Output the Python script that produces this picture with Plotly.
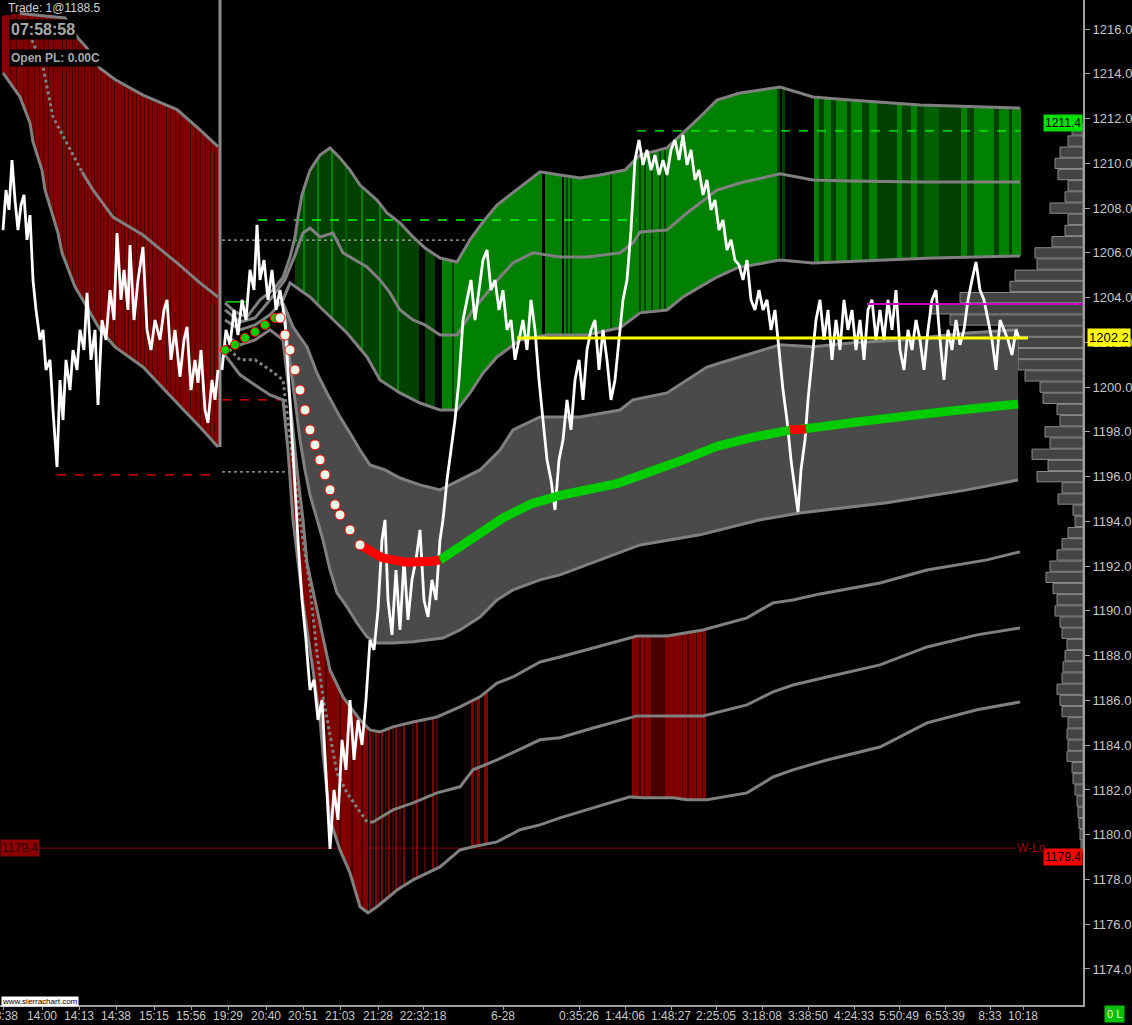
import numpy as np
import plotly.graph_objects as go

# ---------------- axes ----------------
X_MAX = 1083
Y_MIN, Y_MAX = 1172.39, 1217.30
X_TICK_POS = [3, 42, 79, 116, 154, 191, 228, 266, 303, 340, 378, 423, 503, 579, 625, 671,
              716, 762, 808, 854, 899, 945, 990, 1023]
X_TICK_TEXT = ["13:38", "14:00", "14:13", "14:38", "15:15", "15:56", "19:29", "20:40", "20:51",
               "21:03", "21:28", "22:32:18", "6-28", "0:35:26", "1:44:06", "1:48:27", "2:25:05",
               "3:18:08", "3:38:50", "4:24:33", "5:50:49", "6:53:39", "8:33", "10:18"]
Y_TICKS = [1174, 1176, 1178, 1180, 1182, 1184, 1186, 1188, 1190, 1192, 1194, 1196, 1198,
           1200, 1202, 1204, 1206, 1208, 1210, 1212, 1214, 1216]

# ---------------- prices (bar index, price) ----------------
S1_PRICE = [(3, 1207.02), (6, 1208.81), (9, 1207.92), (12, 1210.15), (15, 1208.36), (18, 1207.02),
            (21, 1208.14), (24, 1208.59), (27, 1206.58), (30, 1207.69), (33, 1204.79), (36, 1203.45),
            (40, 1202.11), (43, 1202.56), (46, 1200.77), (50, 1201.22), (53, 1198.98), (57, 1196.43),
            (60, 1200.32), (63, 1198.53), (66, 1201.22), (70, 1199.87), (73, 1201.66), (77, 1200.77),
            (80, 1202.56), (84, 1201.66), (87, 1204.21), (91, 1201.22), (95, 1202.56), (98, 1199.20),
            (102, 1203.00), (106, 1202.11), (110, 1204.34), (114, 1203.00), (117, 1206.89), (121, 1203.90),
            (124, 1205.24), (128, 1203.45), (130, 1206.35), (134, 1203.00), (138, 1204.79), (143, 1206.26),
            (147, 1202.56), (151, 1201.66), (155, 1203.00), (160, 1202.11), (164, 1203.45), (167, 1203.90),
            (171, 1201.22), (175, 1202.56), (180, 1200.46), (184, 1202.11), (187, 1202.69), (191, 1199.87),
            (195, 1201.22), (198, 1200.19), (201, 1201.66), (205, 1198.98), (208, 1198.40), (212, 1200.32),
            (215, 1199.43), (218, 1200.77)]

S2_PRICE = [(222, 1200.77), (226, 1202.56), (230, 1201.89), (234, 1203.45), (238, 1202.33), (242, 1203.90),
            (246, 1203.00), (250, 1205.24), (254, 1204.34), (257, 1207.25), (260, 1204.79), (264, 1205.68),
            (268, 1203.90), (272, 1205.24), (276, 1203.45), (280, 1204.34), (285, 1203.00), (290, 1199.43),
            (294, 1196.30), (298, 1193.17), (302, 1190.49), (306, 1188.70), (310, 1186.47), (314, 1186.92),
            (318, 1185.13), (322, 1186.02), (326, 1182.90), (330, 1179.37), (334, 1182.00), (338, 1180.66),
            (342, 1184.24), (346, 1182.90), (350, 1186.02), (354, 1183.34), (358, 1185.13), (362, 1184.01),
            (366, 1186.02), (370, 1188.70), (374, 1188.26), (378, 1190.05), (382, 1193.17), (385, 1194.07),
            (388, 1190.49), (392, 1188.93), (396, 1191.83), (400, 1189.15), (404, 1192.28), (408, 1189.60),
            (412, 1191.39), (416, 1192.28), (420, 1193.62), (424, 1190.49), (428, 1189.73), (432, 1191.39),
            (436, 1190.49), (440, 1193.17), (443, 1194.07), (447, 1195.85), (451, 1197.19), (455, 1198.53),
            (459, 1200.32), (463, 1203.00), (467, 1203.90), (471, 1204.79), (475, 1203.00), (479, 1204.34),
            (483, 1205.68), (487, 1206.13), (491, 1204.34), (495, 1204.79), (499, 1203.45), (503, 1204.34),
            (507, 1202.56), (511, 1203.00), (515, 1201.22), (519, 1202.11), (523, 1203.00), (527, 1201.66),
            (531, 1203.90), (535, 1202.56), (539, 1200.32), (543, 1198.53), (547, 1196.75), (551, 1195.85),
            (555, 1194.51), (559, 1196.75), (563, 1197.64), (567, 1199.43), (571, 1198.09), (575, 1200.32),
            (579, 1201.22), (583, 1199.43), (587, 1201.66), (591, 1202.56), (595, 1203.00), (599, 1200.77),
            (603, 1202.56), (607, 1201.22), (611, 1199.43), (615, 1200.32), (619, 1202.11), (623, 1203.90),
            (627, 1204.79), (631, 1207.02), (635, 1210.15), (639, 1211.04), (643, 1209.93), (647, 1210.60),
            (651, 1209.70), (655, 1210.37), (659, 1209.48), (663, 1210.15), (667, 1209.48), (671, 1210.60),
            (675, 1211.04), (679, 1210.15), (683, 1211.27), (687, 1209.93), (691, 1210.60), (695, 1209.26),
            (699, 1209.70), (703, 1208.59), (707, 1209.26), (711, 1207.92), (715, 1208.36), (719, 1207.02),
            (723, 1207.47), (727, 1206.13), (731, 1206.58), (735, 1205.68), (739, 1205.46), (743, 1204.79),
            (747, 1205.68), (751, 1203.90), (755, 1203.45), (759, 1204.34), (763, 1203.45), (767, 1203.90),
            (771, 1202.56), (775, 1203.45), (779, 1201.66), (783, 1199.87), (787, 1198.53), (791, 1196.75),
            (795, 1195.41), (798, 1194.42), (801, 1196.30), (805, 1197.64), (808, 1199.43), (812, 1201.22),
            (816, 1203.00), (820, 1203.90), (824, 1202.11), (828, 1203.45), (832, 1201.22), (836, 1203.00),
            (840, 1201.66), (844, 1203.90), (848, 1202.56), (852, 1203.45), (856, 1201.66), (860, 1203.00),
            (864, 1201.22), (868, 1203.45), (872, 1203.90), (876, 1202.11), (880, 1203.45), (884, 1202.11),
            (888, 1203.90), (892, 1202.56), (896, 1204.34), (900, 1201.66), (904, 1200.77), (908, 1202.56),
            (912, 1201.66), (916, 1203.00), (920, 1202.11), (924, 1200.77), (928, 1202.56), (932, 1203.90),
            (936, 1204.34), (940, 1202.11), (944, 1200.32), (948, 1202.56), (952, 1201.66), (956, 1203.00),
            (960, 1201.89), (964, 1202.56), (968, 1203.90), (972, 1204.79), (976, 1205.59), (980, 1204.34),
            (984, 1203.90), (988, 1203.00), (992, 1202.11), (996, 1200.77), (1000, 1203.00), (1004, 1202.56),
            (1008, 1202.11), (1012, 1201.44), (1016, 1202.56), (1019, 1202.20)]

# ---------------- session-1 channel ----------------
B1_UPPER = [(3, 1216.6), (20, 1216.7), (65, 1216.5), (77, 1215.65), (87, 1215.15), (100, 1214.25),
            (115, 1213.75), (143, 1213.05), (177, 1212.4), (200, 1211.5), (218, 1210.75)]
B1_LOWER = [(3, 1214.04), (20, 1212.97), (30, 1211.8), (33, 1210.96), (42, 1209.7), (45, 1208.81),
            (52, 1207.78), (58, 1206.89), (62, 1206.0), (75, 1204.48), (87, 1203.58), (100, 1202.56),
            (115, 1201.8), (143, 1200.9), (177, 1199.29), (200, 1198.22), (218, 1197.33)]
B1_MID = [(32, 1215.51), (43, 1214.31), (53, 1212.07), (67, 1210.91), (82, 1209.62), (93, 1208.81),
          (113, 1207.6), (143, 1206.8), (177, 1205.55), (200, 1204.66), (218, 1204.03)]
RED1_DARK_COLS = [6, 11, 17, 24, 29, 35, 40, 44, 49, 54, 58, 63, 67, 70, 73, 76, 79, 82, 85, 88, 92,
                  95, 98, 101, 104, 108, 112, 115, 118, 122, 125, 129, 133, 137, 141, 145, 149, 153,
                  158, 162, 167, 171, 176, 181, 186, 191, 196, 201, 206, 211, 215]

# ---------------- session-2 upper (green) channel ----------------
GU = [(225, 1203.76), (235, 1203.36), (247, 1203.14), (260, 1203.90), (273, 1204.34), (283, 1204.9),
      (290, 1205.8), (295, 1206.7), (298, 1207.6), (302, 1208.6), (310, 1209.70), (320, 1210.37),
      (330, 1210.69), (340, 1210.24), (350, 1209.70), (360, 1209.03), (377, 1208.36), (387, 1207.78),
      (400, 1207.34), (413, 1206.71), (425, 1206.22), (440, 1205.77), (457, 1205.59), (470, 1206.58),
      (483, 1207.38), (497, 1208.14), (510, 1208.59), (520, 1208.94), (540, 1209.62), (560, 1209.48),
      (580, 1209.35), (600, 1209.48), (625, 1209.70), (640, 1210.37), (667, 1210.69), (683, 1211.36),
      (700, 1212.07), (717, 1212.83), (740, 1213.14), (780, 1213.41), (813, 1212.97), (850, 1212.83),
      (920, 1212.61), (1020, 1212.47)]
GM = [(225, 1203.45), (240, 1202.91), (255, 1203.09), (270, 1203.90), (285, 1204.8), (295, 1205.9),
      (303, 1206.89), (310, 1207.11), (320, 1206.71), (333, 1206.89), (343, 1206.00), (367, 1205.37),
      (380, 1204.79), (390, 1204.21), (400, 1203.45), (413, 1203.00), (425, 1202.78), (440, 1202.33),
      (457, 1202.33), (473, 1203.45), (487, 1204.21), (500, 1204.92), (513, 1205.55), (533, 1206.00),
      (560, 1205.82), (587, 1205.82), (620, 1206.00), (633, 1206.44), (640, 1206.93), (667, 1207.02),
      (687, 1207.78), (700, 1208.23), (717, 1208.81), (740, 1209.12), (780, 1209.53), (813, 1209.26),
      (850, 1209.21), (920, 1209.17), (1020, 1209.17)]
GL = [(225, 1203.00), (240, 1202.56), (255, 1202.78), (270, 1203.23), (283, 1203.90), (290, 1204.66),
      (300, 1204.34), (310, 1204.03), (320, 1203.58), (333, 1203.00), (347, 1202.42), (367, 1201.35),
      (380, 1200.32), (400, 1199.74), (420, 1199.29), (440, 1198.98), (457, 1198.98), (470, 1199.74),
      (483, 1200.63), (497, 1201.35), (520, 1202.11), (547, 1202.33), (587, 1202.33), (620, 1202.65),
      (640, 1203.32), (667, 1203.45), (683, 1204.03), (700, 1204.48), (717, 1204.92), (737, 1205.33),
      (780, 1205.68), (813, 1205.55), (880, 1205.68), (933, 1205.77), (1020, 1205.86)]
GREEN_SEG = [(296, 304, 'D'), (304, 306, 'G'), (306, 318, 'D'), (318, 320, 'G'), (320, 332, 'D'),
             (332, 334, 'G'), (334, 346, 'D'), (346, 348, 'M'), (348, 362, 'D'), (362, 364, 'G'),
             (364, 380, 'D'), (380, 382, 'G'), (382, 398, 'D'), (398, 400, 'G'), (400, 420, 'D'),
             (420, 426, 'K'), (426, 436, 'D'), (436, 443, 'K'), (443, 453, 'G'), (453, 455, 'D'),
             (455, 543, 'G'), (543, 546, 'K'), (546, 563, 'G'), (563, 565, 'K'), (565, 567, 'G'),
             (567, 569, 'D'), (569, 571, 'G'), (571, 573, 'D'), (573, 611, 'G'), (611, 613, 'D'),
             (613, 640, 'G'), (640, 642, 'D'), (642, 645, 'G'), (645, 647, 'D'), (647, 652, 'G'),
             (652, 654, 'D'), (654, 660, 'G'), (660, 662, 'D'), (662, 665, 'G'), (665, 667, 'D'),
             (667, 778, 'G'), (778, 781, 'D'), (781, 783, 'K'), (783, 786, 'D'), (786, 815, 'K'),
             (815, 820, 'G'), (820, 825, 'D'), (825, 832, 'G'), (832, 837, 'D'), (837, 848, 'G'),
             (848, 852, 'D'), (852, 863, 'G'), (863, 870, 'D'), (870, 878, 'G'), (878, 898, 'D'),
             (898, 903, 'G'), (903, 912, 'D'), (912, 918, 'G'), (918, 925, 'D'), (925, 940, 'M'),
             (940, 962, 'D'), (962, 968, 'G'), (968, 975, 'D'), (975, 995, 'G'), (995, 1000, 'D'),
             (1000, 1010, 'G'), (1010, 1013, 'D'), (1013, 1021, 'G')]

# ---------------- session-2 value band + VWAP ----------------
VU = [(283, 1203.76), (293, 1202.69), (307, 1201.80), (317, 1200.63), (327, 1199.74), (340, 1198.67),
      (350, 1197.95), (360, 1197.19), (370, 1196.52), (385, 1196.30), (400, 1195.94), (420, 1195.63),
      (440, 1195.41), (460, 1195.85), (480, 1196.30), (500, 1197.19), (513, 1198.09), (540, 1198.67),
      (580, 1198.67), (620, 1198.98), (633, 1199.43), (667, 1199.74), (687, 1200.32), (707, 1200.90),
      (720, 1201.08), (740, 1201.35), (780, 1201.89), (813, 1201.80), (850, 1201.97), (900, 1202.11),
      (967, 1202.42), (1018, 1202.56)]
VL = [(283, 1203.45), (290, 1201.22), (295, 1199.43), (300, 1197.64), (305, 1196.30), (310, 1195.18),
      (317, 1194.07), (323, 1193.17), (330, 1191.83), (337, 1190.81), (347, 1190.18), (357, 1189.46),
      (367, 1188.84), (377, 1188.57), (393, 1188.57), (413, 1188.62), (443, 1188.79), (460, 1189.15),
      (480, 1189.73), (497, 1190.49), (513, 1190.94), (540, 1191.39), (560, 1191.61), (600, 1192.28),
      (640, 1192.95), (700, 1193.40), (760, 1194.07), (800, 1194.38), (887, 1194.83), (967, 1195.41),
      (1018, 1195.85)]
VWAP = [(225, 1201.66), (235, 1201.89), (245, 1202.20), (255, 1202.47), (265, 1202.78), (275, 1203.09),
        (280, 1203.09), (285, 1202.33), (290, 1201.66), (295, 1200.77), (300, 1199.87), (305, 1198.98),
        (310, 1198.09), (315, 1197.42), (320, 1196.75), (325, 1196.08), (330, 1195.41), (335, 1194.74),
        (340, 1194.29), (350, 1193.62), (360, 1192.95), (370, 1192.64), (380, 1192.41), (390, 1192.28),
        (400, 1192.19), (420, 1192.15), (430, 1192.19), (440, 1192.28), (450, 1192.59), (460, 1192.95),
        (480, 1193.49), (500, 1194.07), (520, 1194.60), (550, 1195.09), (580, 1195.32), (610, 1195.54),
        (630, 1195.94), (650, 1196.21), (680, 1196.66), (700, 1197.10), (730, 1197.55), (760, 1197.82),
        (780, 1198.09), (800, 1198.09), (830, 1198.31), (860, 1198.45), (900, 1198.71), (940, 1198.89),
        (980, 1199.07), (1018, 1199.25)]
VWAP_RED_SPANS = [(360, 440), (790, 806)]

# ---------------- session-2 lower bands ----------------
LA = [(225, 1202.33), (240, 1201.89), (255, 1202.11), (270, 1202.56), (283, 1202.11), (290, 1199.43),
      (297, 1196.30), (303, 1194.07), (307, 1192.15), (317, 1190.05), (330, 1187.36), (343, 1186.16),
      (360, 1185.13), (370, 1184.68), (380, 1184.59), (393, 1184.82), (413, 1185.04), (437, 1185.26),
      (460, 1185.71), (480, 1186.16), (497, 1186.78), (513, 1187.05), (540, 1187.72), (560, 1187.94),
      (593, 1188.35), (630, 1188.79), (637, 1188.88), (667, 1188.88), (703, 1189.15), (747, 1189.69),
      (773, 1190.36), (793, 1190.49), (820, 1190.76), (880, 1191.25), (927, 1191.83), (987, 1192.28),
      (1020, 1192.64)]
LB = [(225, 1201.89), (240, 1201.22), (255, 1201.22), (270, 1200.77), (283, 1200.32), (290, 1197.64),
      (296, 1195.41), (300, 1194.07), (310, 1191.07), (317, 1188.12), (323, 1186.16), (330, 1184.37),
      (337, 1182.76), (347, 1181.87), (357, 1181.24), (367, 1180.57), (373, 1180.57), (393, 1181.11),
      (413, 1181.42), (437, 1181.87), (460, 1182.14), (473, 1182.90), (497, 1183.34), (540, 1184.24),
      (560, 1184.33), (593, 1184.77), (630, 1185.22), (637, 1185.31), (703, 1185.31), (747, 1185.80),
      (773, 1186.38), (793, 1186.69), (827, 1187.05), (880, 1187.59), (927, 1188.39), (977, 1188.93),
      (1020, 1189.24)]
LC = [(225, 1201.44), (240, 1200.55), (255, 1200.10), (270, 1199.65), (283, 1199.43), (288, 1197.19),
      (293, 1194.07), (297, 1192.59), (303, 1190.36), (313, 1187.36), (320, 1185.13), (323, 1183.66),
      (330, 1180.66), (340, 1179.32), (350, 1178.29), (360, 1176.78), (368, 1176.51), (377, 1176.78),
      (397, 1177.53), (413, 1177.98), (440, 1178.56), (460, 1179.32), (473, 1179.46), (497, 1179.68),
      (520, 1180.22), (540, 1180.44), (560, 1180.75), (593, 1181.20), (630, 1181.69), (643, 1181.65),
      (673, 1181.65), (687, 1181.56), (707, 1181.56), (747, 1181.87), (773, 1182.58), (793, 1182.90),
      (827, 1183.34), (880, 1183.92), (927, 1185.00), (977, 1185.58), (1020, 1185.93)]
LOWRED_SEG = [(291, 300, 'R'), (300, 302, 'D'), (302, 312, 'R'), (312, 314, 'D'), (314, 326, 'R'),
              (326, 328, 'D'), (328, 340, 'R'), (340, 342, 'D'), (342, 352, 'R'), (352, 354, 'D'),
              (354, 362, 'R'), (362, 364, 'D'), (364, 368, 'R'), (370, 371, 'R'), (373, 374, 'D'),
              (376, 377, 'R'), (379, 380, 'D'), (382, 383, 'R'), (386, 387, 'D'), (389, 390, 'R'),
              (393, 394, 'D'), (396, 397, 'R'), (400, 401, 'D'), (404, 405, 'R'), (413, 414, 'D'),
              (417, 418, 'R'), (425, 426, 'D'), (433, 434, 'R'), (437, 438, 'D'), (472, 474, 'R'),
              (476, 477, 'D'), (478, 480, 'R'), (485, 488, 'R')]
BLOCK_SEG = [(633, 640, 'R'), (640, 642, 'D'), (642, 645, 'R'), (645, 646, 'D'), (646, 652, 'R'),
             (652, 666, 'D'), (666, 683, 'R'), (683, 684, 'D'), (684, 688, 'R'), (688, 690, 'D'),
             (690, 697, 'R'), (697, 698, 'D'), (698, 703, 'R'), (703, 704, 'D'), (704, 706, 'R')]

# ---------------- horizontal reference levels ----------------
HL_LEVEL = [1211.45, 1207.47, 1206.57, 1196.21, 1196.08, 1203.81, 1199.43]
HL_X0 = [637, 258, 222, 222, 57, 226, 222]
HL_X1 = [1020, 637, 473, 290, 218, 246, 280]
HL_COLOR = ["#00FF00", "#00FF00", "#B0B0B0", "#B0B0B0", "#FF0000", "#00FF00", "#FF0000"]
HL_DASH = ["dash", "dash", "dot", "dot", "dash", "solid", "dash"]
LAST_PRICE = 1202.2
WEEK_LOW = 1179.4
SESSION_HIGH = 1211.4
MAGENTA_LEVEL = 1203.72

# ---------------- volume profile ----------------
PROFILE_PRICE = [1211.5, 1211.0, 1210.5, 1210.0, 1209.5, 1209.0, 1208.5, 1208.0, 1207.5, 1207.0,
                 1206.5, 1206.0, 1205.5, 1205.0, 1204.5, 1204.0, 1203.5, 1203.0, 1202.5, 1202.0,
                 1201.5, 1201.0, 1200.5, 1200.0, 1199.5, 1199.0, 1198.5, 1198.0, 1197.5, 1197.0,
                 1196.5, 1196.0, 1195.5, 1195.0, 1194.5, 1194.0, 1193.5, 1193.0, 1192.5, 1192.0,
                 1191.5, 1191.0, 1190.5, 1190.0, 1189.5, 1189.0, 1188.5, 1188.0, 1187.5, 1187.0,
                 1186.5, 1186.0, 1185.5, 1185.0, 1184.5, 1184.0, 1183.5, 1183.0, 1182.5, 1182.0,
                 1181.5, 1181.0, 1180.5, 1180.0, 1179.5]
PROFILE_LEN = [11, 15, 23, 28, 25, 15, 18, 33, 15, 18,
               31, 48, 46, 68, 73, 123, 153, 133, 83, 65,
               65, 65, 58, 43, 40, 26, 23, 38, 33, 51,
               35, 46, 21, 25, 10, 8, 15, 21, 26, 33,
               37, 30, 26, 28, 23, 21, 16, 18, 20, 21,
               26, 23, 21, 15, 16, 15, 16, 11, 10, 8,
               6, 5, 4, 3, 2]

GRAY_LINE = "#808080"
GREEN_COLORS = {'G': '#008000', 'D': '#004000', 'M': '#006000', 'K': '#000000'}
RED_COLORS = {'R': '#800000', 'D': '#480000'}


def unzip(pairs):
    xs, ys = zip(*pairs)
    return np.array(xs, float), np.array(ys, float)


def interp(pairs, xs):
    px, py = unzip(pairs)
    return np.interp(xs, px, py)


fig = go.Figure()


def add_columns(x0, x1, upper, lower, segments, colors, default=None):
    xs, cs = [], []
    for x in range(x0, x1 + 1):
        c = default
        for a, b, code in segments:
            if a <= x < b:
                c = colors[code]
        if c is not None:
            xs.append(x)
            cs.append(c)
    xs = np.array(xs, float)
    top = interp(upper, xs)
    bot = interp(lower, xs)
    fig.add_trace(go.Bar(x=xs, y=top - bot, base=bot, width=1.2,
                         marker=dict(color=cs, line=dict(width=0)),
                         hoverinfo="skip", showlegend=False))


def add_line(pairs, color=GRAY_LINE, width=3, dash="solid", xmin=None, xmax=None):
    xs, ys = unzip(pairs)
    if xmin is not None or xmax is not None:
        lo = xs.min() if xmin is None else xmin
        hi = xs.max() if xmax is None else xmax
        grid = np.unique(np.concatenate([[lo, hi], xs[(xs > lo) & (xs < hi)]]))
        ys = np.interp(grid, xs, ys)
        xs = grid
    fig.add_trace(go.Scatter(x=xs, y=ys, mode="lines",
                             line=dict(color=color, width=width, dash=dash),
                             hoverinfo="skip", showlegend=False))


# volume profile (right edge)
fig.add_trace(go.Bar(orientation="h", y=PROFILE_PRICE, x=PROFILE_LEN,
                     base=[X_MAX - v for v in PROFILE_LEN], width=0.46,
                     marker=dict(color="#444444", line=dict(color="#8A8A8A", width=1)),
                     hoverinfo="skip", showlegend=False))

# filled channels
red1_seg = [(c, c + 1, 'D') for c in RED1_DARK_COLS]
add_columns(3, 218, B1_UPPER, B1_LOWER, red1_seg, RED_COLORS, default=RED_COLORS['R'])
add_columns(296, 1020, GU, GL, GREEN_SEG, GREEN_COLORS)
add_columns(288, 500, LA, LC, LOWRED_SEG, RED_COLORS)
add_columns(633, 706, LA, LC, BLOCK_SEG, RED_COLORS)

# weekly low line
fig.add_trace(go.Scatter(x=[0, 1016], y=[WEEK_LOW, WEEK_LOW], mode="lines",
                         line=dict(color="#800000", width=1), hoverinfo="skip", showlegend=False))

# value band fill
vx = np.arange(283, 1019)
vtop = interp(VU, vx)
vbot = interp(VL, vx)
fig.add_trace(go.Scatter(x=np.concatenate([vx, vx[::-1]]), y=np.concatenate([vtop, vbot[::-1]]),
                         mode="lines", fill="toself", fillcolor="#4A4A4A", line=dict(width=0),
                         hoverinfo="skip", showlegend=False))

# horizontal dashed levels
for lvl, a, b, col, dsh in zip(HL_LEVEL, HL_X0, HL_X1, HL_COLOR, HL_DASH):
    fig.add_trace(go.Scatter(x=[a, b], y=[lvl, lvl], mode="lines",
                             line=dict(color=col, width=1.3, dash=dsh),
                             hoverinfo="skip", showlegend=False))

# band lines
add_line(B1_UPPER, xmin=20)
add_line(B1_LOWER)
add_line(B1_MID, dash="dot", xmax=82)
add_line(B1_MID, xmin=82)
for band in (GU, GM, GL, VU, VL, LA, LC):
    add_line(band)
add_line(LB, dash="dot", xmax=370)
add_line(LB, xmin=370)

# vertical session divider
fig.add_trace(go.Scatter(x=[220, 220], y=[B1_LOWER[-1][1], Y_MAX], mode="lines",
                         line=dict(color="#8C8C8C", width=3), hoverinfo="skip", showlegend=False))

# price
for series in (S1_PRICE, S2_PRICE):
    px, py = unzip(series)
    fig.add_trace(go.Scatter(x=px, y=py, mode="lines", line=dict(color="#FFFFFF", width=2.8),
                             hoverinfo="skip", showlegend=False))

# VWAP
wx, wy = unzip(VWAP)
early = wx < 280
fig.add_trace(go.Scatter(x=wx[early], y=wy[early], mode="markers",
                         marker=dict(size=9, color="#00CC00", line=dict(color="#FF0000", width=1)),
                         hoverinfo="skip", showlegend=False))
gx = np.arange(440, 1019)
fig.add_trace(go.Scatter(x=gx, y=np.interp(gx, wx, wy), mode="lines",
                         line=dict(color="#00CC00", width=9), hoverinfo="skip", showlegend=False))
for a, b in VWAP_RED_SPANS:
    rx = np.arange(a, b + 1)
    fig.add_trace(go.Scatter(x=rx, y=np.interp(rx, wx, wy), mode="lines",
                             line=dict(color="#FF0000", width=9), hoverinfo="skip", showlegend=False))
mid = (wx >= 280) & (wx <= 360)
fig.add_trace(go.Scatter(x=wx[mid], y=wy[mid], mode="markers",
                         marker=dict(size=10, color="#E8FFE8", line=dict(color="#FF0000", width=1)),
                         hoverinfo="skip", showlegend=False))

# last price and magenta level
fig.add_trace(go.Scatter(x=[517, 1028], y=[LAST_PRICE, LAST_PRICE], mode="lines",
                         line=dict(color="#FFFF00", width=3), hoverinfo="skip", showlegend=False))
fig.add_trace(go.Scatter(x=[867, X_MAX], y=[MAGENTA_LEVEL, MAGENTA_LEVEL], mode="lines",
                         line=dict(color="#C000C0", width=2), hoverinfo="skip", showlegend=False))

FONT = "Liberation Sans, Arial, sans-serif"
ann = [
    dict(text="Trade: 1@1188.5", xref="paper", yref="paper", x=0.006, y=0.992, xanchor="left",
         yanchor="middle", font=dict(size=12, color="#D0D0D0", family=FONT), showarrow=False),
    dict(text="<b>07:58:58</b>", xref="paper", yref="paper", x=0.0083, y=0.9711, xanchor="left",
         yanchor="middle", font=dict(size=16, color="#A8A8A8", family=FONT), bgcolor="#000000",
         showarrow=False),
    dict(text="<b>Open PL: 0.00C</b>", xref="paper", yref="paper", x=0.0083, y=0.9423, xanchor="left",
         yanchor="middle", font=dict(size=12, color="#A8A8A8", family=FONT), bgcolor="#000000",
         showarrow=False),
    dict(text="www.sierrachart.com", xref="paper", yref="paper", x=0.001, y=0.003, xanchor="left",
         yanchor="middle", font=dict(size=8, color="#000000", family=FONT), bgcolor="#FFFFFF",
         borderpad=0, showarrow=False),
    dict(text="0 L", xref="paper", yref="paper", x=1.0295, y=-0.009, xanchor="center",
         yanchor="middle", font=dict(size=11, color="#D8FFD8", family=FONT), bgcolor="#00C000",
         borderpad=2, showarrow=False),
    dict(text=f"{SESSION_HIGH:.1f}", xref="paper", yref="y", x=1.0, y=SESSION_HIGH, xanchor="right",
         yanchor="bottom", font=dict(size=12, color="#000000", family=FONT), bgcolor="#00E000",
         borderpad=1, showarrow=False),
    dict(text=f"{LAST_PRICE:.1f}", xref="paper", yref="y", x=1.004, y=LAST_PRICE, xanchor="left",
         yanchor="middle", font=dict(size=13, color="#000000", family=FONT), bgcolor="#FFFF00",
         borderpad=1, showarrow=False),
    dict(text=f"{WEEK_LOW:.1f}", xref="paper", yref="y", x=1.0, y=WEEK_LOW, xanchor="right",
         yanchor="top", font=dict(size=12, color="#000000", family=FONT), bgcolor="#FF0000",
         borderpad=1, showarrow=False),
    dict(text=f"{WEEK_LOW:.1f}", xref="paper", yref="y", x=0.0, y=WEEK_LOW, xanchor="left",
         yanchor="middle", font=dict(size=12, color="#2A0000", family=FONT), bgcolor="#8B0000",
         borderpad=1, showarrow=False),
    dict(text="W-Lo", xref="x", yref="y", x=1031, y=WEEK_LOW, xanchor="center", yanchor="middle",
         font=dict(size=12, color="#A00000", family=FONT), showarrow=False),
]

fig.update_layout(
    width=1132, height=1025,
    margin=dict(l=0, r=49, t=0, b=20),
    paper_bgcolor="#000000", plot_bgcolor="#000000",
    showlegend=False, barmode="overlay", bargap=0,
    annotations=ann,
    font=dict(family=FONT, color="#C8C8C8"),
)
fig.update_xaxes(range=[0, X_MAX], tickvals=X_TICK_POS, ticktext=X_TICK_TEXT, showgrid=False,
                 zeroline=False, showline=True, linecolor="#A0A0A0", linewidth=2, ticks="outside",
                 ticklen=3, tickcolor="#A0A0A0", tickfont=dict(size=12, color="#C8C8C8", family=FONT),
                 ticklabelstandoff=-4, ticklabeloverflow="allow",
                 automargin=False, fixedrange=True)
fig.update_yaxes(range=[Y_MIN, Y_MAX], side="right", tickvals=Y_TICKS,
                 ticktext=[f"{v:.1f}" for v in Y_TICKS], showgrid=False, zeroline=False,
                 showline=True, linecolor="#A0A0A0", linewidth=2, ticks="outside", ticklen=5,
                 tickcolor="#A0A0A0", tickfont=dict(size=13, color="#C8C8C8", family=FONT),
                 automargin=False, fixedrange=True)

fig.write_html(
    "out.html",
    config={"displayModeBar": False, "staticPlot": True},
    post_script="document.body.style.margin='0px';document.body.style.padding='0px';"
                "document.body.style.overflow='hidden';document.body.style.background='#000';",
)
